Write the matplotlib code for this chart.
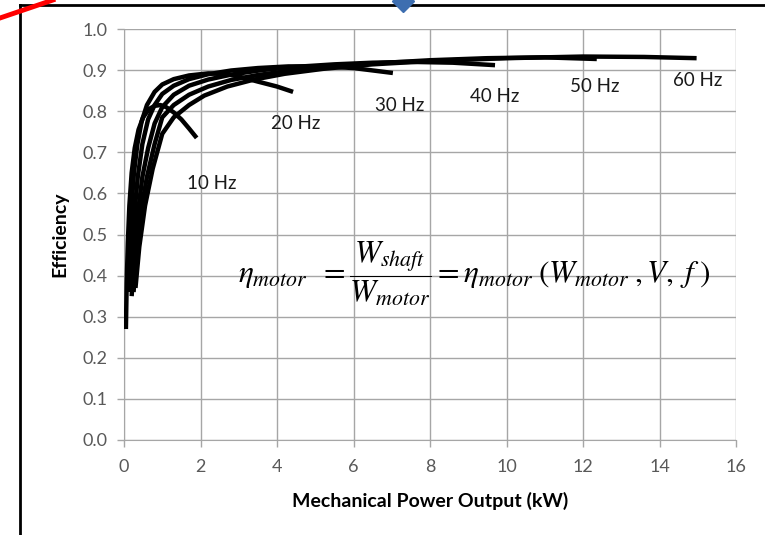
import matplotlib
matplotlib.use("Agg")
import matplotlib.pyplot as plt
from matplotlib.lines import Line2D

# =============================================================================
# Data

p10 = [0.05, 0.07, 0.10, 0.14, 0.20, 0.28, 0.38, 0.50, 0.65, 0.80, 0.95, 1.10, 1.30, 1.50, 1.70, 1.90]
e10 = [0.27, 0.38, 0.48, 0.57, 0.65, 0.71, 0.755, 0.785, 0.805, 0.813, 0.815, 0.81, 0.797, 0.78, 0.758, 0.735]

p20 = [0.10, 0.14, 0.19, 0.26, 0.35, 0.46, 0.60, 0.80, 1.00, 1.30, 1.70, 2.20, 2.70, 3.10, 3.50, 4.00, 4.42]
e20 = [0.38, 0.47, 0.56, 0.65, 0.72, 0.775, 0.815, 0.847, 0.865, 0.878, 0.887, 0.892, 0.89, 0.882, 0.872, 0.86, 0.847]

p30 = [0.15, 0.20, 0.27, 0.36, 0.48, 0.63, 0.80, 1.00, 1.30, 1.70, 2.20, 2.80, 3.50, 4.30, 5.20, 6.00, 7.03]
e30 = [0.36, 0.45, 0.55, 0.64, 0.72, 0.78, 0.815, 0.842, 0.862, 0.878, 0.89, 0.899, 0.905, 0.909, 0.909, 0.905, 0.893]

p40 = [0.20, 0.27, 0.36, 0.48, 0.63, 0.80, 1.00, 1.30, 1.70, 2.20, 2.80, 3.60, 4.50, 5.50, 6.50, 7.50, 8.60, 9.70]
e40 = [0.35, 0.45, 0.55, 0.64, 0.71, 0.77, 0.81, 0.84, 0.862, 0.877, 0.889, 0.9, 0.908, 0.914, 0.918, 0.92, 0.918, 0.912]

p50 = [0.25, 0.33, 0.45, 0.60, 0.80, 1.00, 1.30, 1.70, 2.20, 2.80, 3.50, 4.30, 5.30, 6.50, 8.00, 9.50, 11.00, 12.36]
e50 = [0.36, 0.46, 0.56, 0.64, 0.72, 0.785, 0.815, 0.84, 0.86, 0.876, 0.888, 0.898, 0.908, 0.916, 0.924, 0.929, 0.931, 0.927]

p60 = [0.30, 0.40, 0.55, 0.75, 1.00, 1.30, 1.70, 2.10, 2.70, 3.40, 4.20, 5.20, 6.50, 8.00, 10.00, 12.00, 13.60, 14.97]
e60 = [0.37, 0.47, 0.57, 0.66, 0.745, 0.785, 0.815, 0.838, 0.86, 0.877, 0.891, 0.903, 0.914, 0.922, 0.929, 0.933, 0.932, 0.929]

freq_labels = ["10 Hz", "20 Hz", "30 Hz", "40 Hz", "50 Hz", "60 Hz"]
label_x = [2.3, 4.5, 7.2, 9.7, 12.3, 15.0]
label_y = [0.625, 0.77, 0.815, 0.835, 0.86, 0.875]

xticks = [0, 2, 4, 6, 8, 10, 12, 14, 16]
yticks = [0.0, 0.1, 0.2, 0.3, 0.4, 0.5, 0.6, 0.7, 0.8, 0.9, 1.0]

# =============================================================================
# Figure

plt.rcParams['font.family'] = ['Lato', 'DejaVu Sans']
plt.rcParams['mathtext.fontset'] = 'stix'

fig = plt.figure(figsize=(7.65, 5.35), dpi=100)
ax = fig.add_axes([124/765, 1-440/535, 612/765, 411/535])

grid_c = '#a6a6a6'
for p, e in [(p10, e10), (p20, e20), (p30, e30), (p40, e40), (p50, e50), (p60, e60)]:
    ax.plot(p, e, color='black', lw=3.2, solid_capstyle='butt', solid_joinstyle='round', zorder=3)

for t, x, y in zip(freq_labels, label_x, label_y):
    ax.text(x, y, t, ha='center', va='center', fontsize=13.5, color='#1a1a1a')

ax.text(9.15, 0.405,
        r'$\eta_{motor}\;\; = \dfrac{W_{shaft}}{W_{motor}} = \eta_{motor}\;(W_{motor}\;,V,\;f\;)$',
        ha='center', va='center', fontsize=22.5, color='black')

ax.set_xlim(0, 16)
ax.set_ylim(0, 1.0)
ax.set_xticks(xticks)
ax.set_yticks(yticks)
ax.set_yticklabels(["{:.1f}".format(v) for v in yticks])
ax.grid(True, color=grid_c, lw=1.0)
ax.set_axisbelow(True)
for s in ax.spines.values():
    s.set_visible(False)
ax.spines['left'].set_visible(True)
ax.spines['bottom'].set_visible(True)
ax.spines['left'].set_color(grid_c)
ax.spines['bottom'].set_color(grid_c)
ax.tick_params(axis='both', colors=grid_c, labelcolor='#595959', labelsize=13, length=5, width=1)
ax.tick_params(axis='x', pad=9)
ax.tick_params(axis='y', pad=7)

ax.set_xlabel("Mechanical Power Output (kW)", fontsize=14, fontweight='bold', labelpad=12)
ax.set_ylabel("Efficiency", fontsize=14, fontweight='bold', labelpad=10)

# frame, red stroke and blue marker around the chart
fig.add_artist(Line2D([20/765, 20/765], [0, 1-5/535], color='black', lw=2, transform=fig.transFigure))
fig.add_artist(Line2D([20/765, 1], [1-5/535, 1-5/535], color='black', lw=2, transform=fig.transFigure))
fig.add_artist(Line2D([0, 53/765], [1-18/535, 1], color='red', lw=3.5, transform=fig.transFigure))
fig.add_artist(Line2D([403/765], [1-1/535], marker='D', markersize=11, color='#3d6eb0',
                      transform=fig.transFigure, clip_on=False))

fig.savefig("out.png", dpi=100)
